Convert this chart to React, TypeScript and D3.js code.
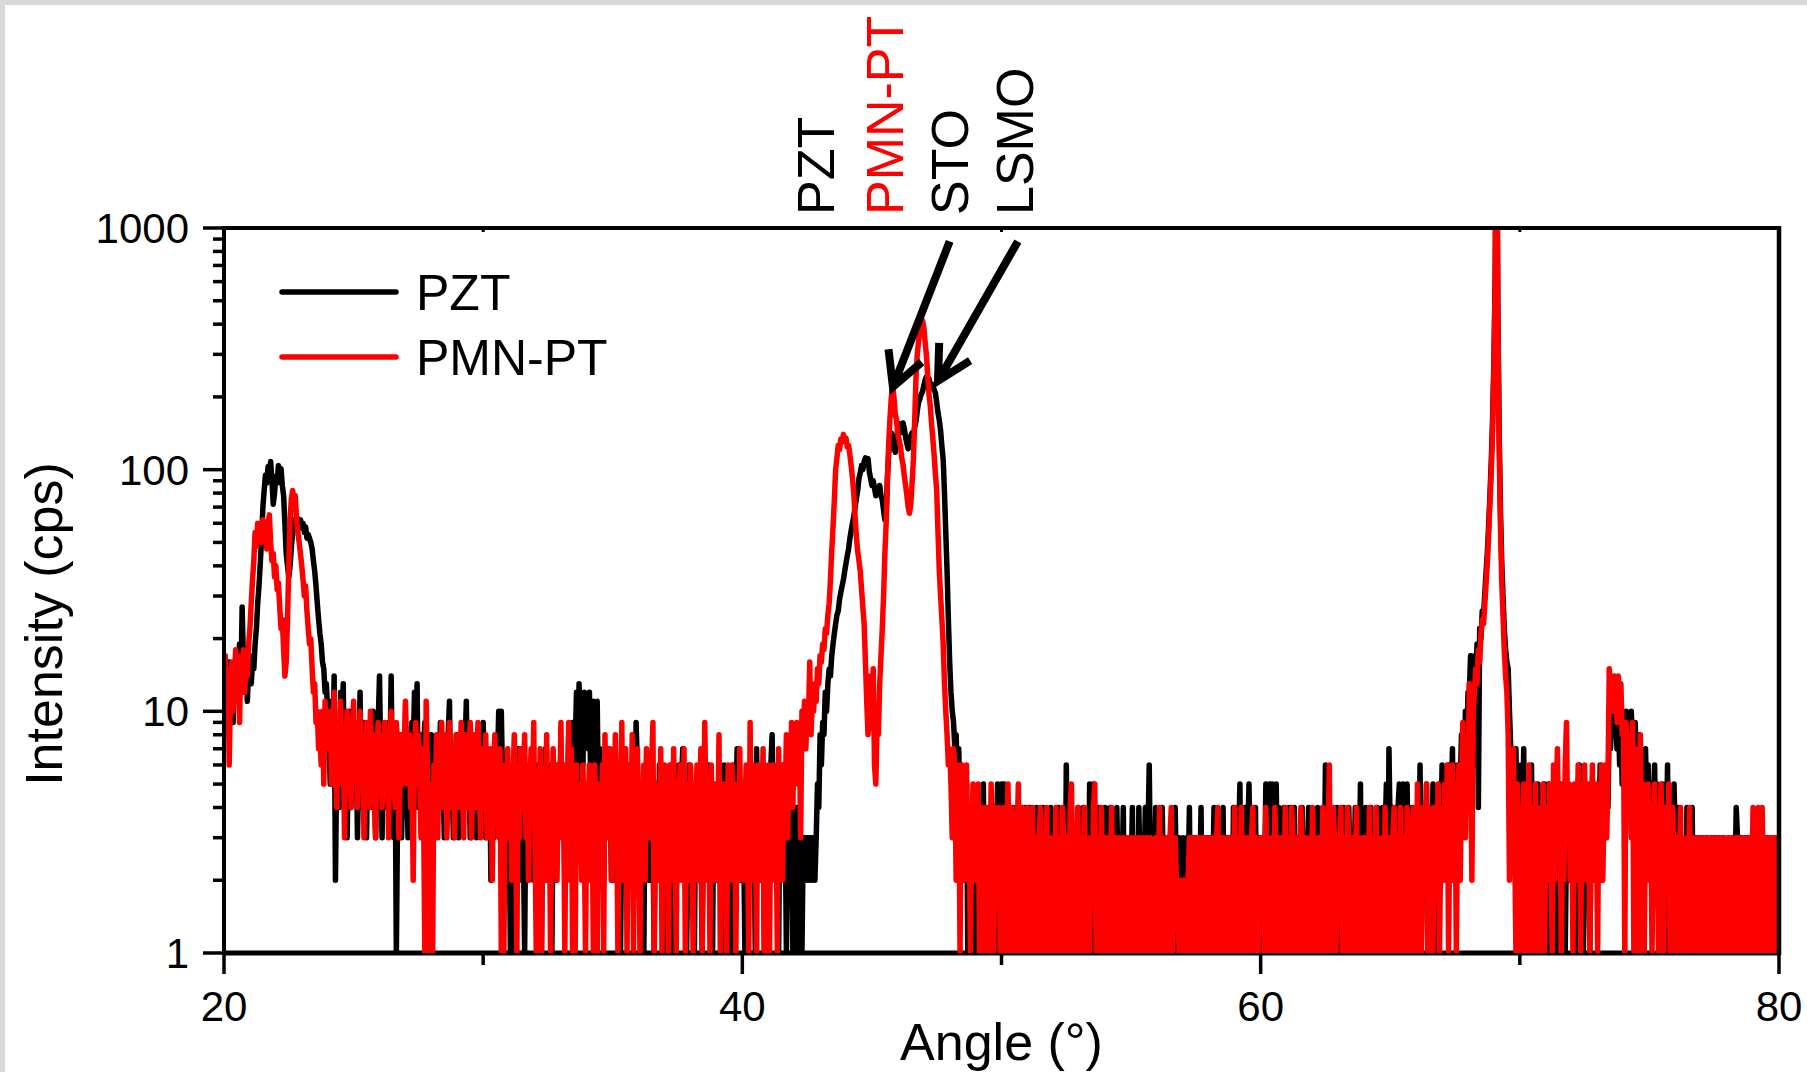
import React from "react";
import * as d3 from "d3";

// ---------- axis / sampling ----------
const ANGLE_START = 20;
const ANGLE_STEP = 0.05;
const X_DOMAIN = [20, 80];
const Y_DOMAIN = [1, 1000];
const X_TICKS = [20, 40, 60, 80];
const X_MINOR = [30, 50, 70];
const Y_TICKS = [1, 10, 100, 1000];
const SERIES_NAMES = ["PZT", "PMN-PT"];
const SERIES_COLORS = ["#000000", "#ff0000"];

// ---------- PZT (black) intensity, cps, 0.05 deg steps from 20.00 ----------
const pztFilm = [
  12, 9, 14, 11, 16, 10, 13, 9, 15, 12,
  17, 14, 19, 13, 27, 16, 12, 18, 11, 15,
  17, 13, 16, 15, 19, 22, 28, 33, 41, 52,
  70, 82, 95, 88, 103, 96, 108, 90, 72, 80,
  94, 88, 104, 97, 101, 86, 78, 60, 45, 40,
  36, 40, 48, 55, 62, 58, 64, 60, 57, 62,
  58, 60, 55, 58, 52, 54, 52, 50, 47, 42,
  38, 33, 28, 24, 21, 19, 16, 15, 12, 13,
  10,
];
const pztBackgroundLow = [
  8, 5, 11, 7, 14, 2, 6, 9, 4, 12, 7, 13, 5, 8, 3, 6, 10, 4, 7, 9,
  5, 8, 3, 6, 12, 4, 7, 9, 5, 3, 8, 6, 4, 7, 10, 5, 3, 6, 9, 14,
  6, 3, 8, 5, 7, 4, 9, 6, 14, 5, 3, 7, 1, 4, 6, 8, 3, 5, 7, 4,
  6, 3, 8, 5, 9, 7, 12, 6, 13, 4, 8, 5, 3, 7, 9, 4, 6, 3, 5, 8,
  4, 7, 3, 6, 8, 5, 9, 4, 6, 3, 7, 5, 8, 11, 4, 6, 3, 7, 5, 8,
  3, 6, 4, 8, 5, 7, 11, 4, 6, 3, 8, 5, 4, 7, 3, 6, 5, 8, 4, 9,
  5, 3, 7, 4, 6, 2, 5, 3, 7, 4, 6, 10, 3, 10, 5, 2, 4, 3, 6, 4,
  1, 4, 6, 1, 5, 3, 7, 2, 4, 6, 3, 1, 5, 4, 2, 6, 3, 5, 2, 4,
  3, 6, 2, 4, 1, 5, 3, 7, 2, 4, 6, 3, 1, 4, 5, 2, 6, 3, 4, 7,
  3, 5, 2, 6, 4, 8, 3, 5, 9, 4, 7, 12, 5, 13, 8, 11, 6, 12, 9, 11,
  7, 12, 5, 10, 11, 6, 9, 11, 4, 7, 3, 6, 2, 5, 4, 7, 3, 5, 2, 6,
  4, 2, 5, 3, 6, 1, 4, 7, 3, 5, 2, 6, 4, 3, 5, 4, 2, 9, 6, 3,
  5, 2, 4, 1, 6, 3, 5, 2, 4, 6, 3, 1, 5, 4, 2, 6, 3, 5, 1, 4,
  3, 5, 2, 4, 6, 1, 3, 5, 2, 4, 6, 3, 5, 7, 2, 4, 1, 3, 6, 2,
  4, 3, 1, 5, 2, 4, 6, 3, 1, 4, 2, 5, 3, 6, 2, 4, 1, 5, 3, 4,
  2, 5, 3, 1, 4, 6, 2, 4, 3, 5, 1, 3, 6, 2, 4, 7, 3, 5, 2, 4,
  3, 1, 5, 2, 4, 3, 6, 2, 4, 1, 7, 3, 5, 2, 4, 6, 1, 3, 5, 2,
  4, 6, 8, 3, 5, 2, 4, 1, 5, 3, 6, 2, 4, 1, 3, 5, 2, 4, 1, 3,
  2, 4, 1, 3, 2, 1, 3, 2, 3, 2,
];
const pztPeaks = [
  3, 2, 3, 2, 3, 2, 3, 5, 4,
  8, 6, 9, 8, 12, 10, 13, 15, 14, 17, 19, 21, 23, 25, 26, 29, 31, 33, 35, 38,
  41, 44, 47, 52, 56, 60, 64, 70, 76, 82, 92, 97, 104, 100, 108, 112, 106, 111, 98, 92,
  86, 90, 84, 78, 82, 80, 86, 78, 75, 68, 62, 66, 95, 118, 128, 142, 135, 125, 118, 130,
  150, 155, 142, 150, 156, 148, 136, 128, 122, 126, 138, 142, 136, 150, 158, 175, 190, 196, 205, 210,
  222, 235, 242, 228, 238, 226, 218, 225, 214, 208, 190, 172, 160, 145, 125, 110, 80, 55, 38, 24,
  16, 12, 10, 9, 7, 8, 5, 7, 4, 6, 3,
];
const pztBackgroundHigh = [
  4, 2, 5, 1, 3, 4, 2, 3, 1, 4,
  2, 3, 1, 4, 2, 5, 1, 3, 2, 4, 1, 3, 2, 4, 1, 3, 5, 2, 4, 5,
  3, 5, 1, 2, 4, 1, 3, 2, 4, 1, 3, 2, 1, 4, 2, 3, 1, 4, 2, 3,
  2, 4, 1, 3, 2, 1, 4, 2, 3, 1, 2, 4, 3, 1, 2, 3, 1, 4, 2, 3,
  1, 3, 2, 4, 1, 3, 2, 4, 1, 6, 2, 3, 1, 4, 2, 3, 1, 2, 4, 1,
  3, 2, 4, 1, 2, 3, 1, 5, 2, 4, 5, 1, 3, 2, 4, 1, 3, 2, 1, 4,
  2, 1, 3, 4, 1, 2, 3, 1, 4, 2, 1, 3, 2, 4, 1, 3, 2, 1, 3, 2,
  4, 1, 2, 3, 1, 4, 2, 3, 1, 2, 4, 1, 3, 6, 2, 1, 3, 2, 4, 1,
  3, 2, 1, 4, 2, 3, 1, 2, 3, 1, 2, 3, 1, 4, 2, 1, 3, 2, 1, 3,
  2, 1, 3, 2, 4, 1, 2, 3, 1, 2, 3, 1, 2, 4, 1, 3, 2, 1, 3, 2,
  3, 1, 2, 4, 1, 3, 2, 1, 3, 2, 4, 1, 2, 3, 1, 2, 3, 1, 4, 2,
  2, 4, 3, 5, 1, 3, 2, 4, 1, 3, 5, 2, 1, 3, 2, 4, 1, 3, 2, 3,
  1, 3, 2, 5, 4, 1, 5, 2, 5, 3, 1, 5, 2, 4, 1, 3, 2, 4, 1, 3,
  2, 4, 1, 3, 2, 4, 1, 3, 2, 1, 3, 4, 2, 1, 3, 2, 4, 1, 3, 2,
  1, 3, 2, 4, 1, 3, 2, 4, 2, 6, 1, 3, 2, 4, 1, 3, 2, 1, 4, 2,
  3, 1, 2, 4, 2, 3, 1, 4, 2, 3, 1, 2, 4, 1, 3, 2, 5, 1, 3, 2,
  4, 1, 3, 2, 4, 1, 3, 2, 1, 4, 2, 3, 1, 4, 2, 3, 5, 1, 7, 3,
  2, 4, 1, 3, 2, 4, 5, 2, 3, 5, 1, 4, 5, 2, 3, 1, 4, 2, 3, 4,
  3, 2, 6, 1, 4, 3, 2, 5, 1, 3, 4, 2, 5, 1, 3, 4, 2, 5, 3, 6,
  4, 3, 5, 2, 6, 3, 4, 7, 2, 5, 3, 6, 4, 5, 8, 6, 4, 10, 7, 12,
];
const pztSubstrate = [
  12, 17, 9, 6, 17, 14, 19, 4, 22, 20, 26, 25, 31, 38, 46, 60, 80, 110, 165, 280,
  650, 5000, 500, 150, 70, 42, 30, 22, 18, 16, 15, 10, 7, 5, 6, 4, 7, 3, 5, 4,
];
const pztTail = [
  6, 3, 7, 2, 4, 5, 1, 3, 6, 2, 4, 1, 3, 5, 2, 4, 1, 3, 5, 2,
  3, 5, 1, 4, 2, 3, 5, 1, 4, 2, 3, 5, 2, 4, 1, 3, 5, 2, 4, 3,
  2, 4, 1, 3, 5, 6, 2, 4, 1, 3, 5, 2, 4, 1, 3, 5, 2, 4, 3, 5,
  3, 6, 2, 4, 5, 3, 6, 4, 9, 7, 10, 8, 11, 9, 7, 10, 6, 9, 5, 9,
  7, 10, 6, 8, 5, 10, 7, 4, 9, 6, 5, 8, 4, 6, 3, 5, 7, 4, 6, 3,
  5, 2, 4, 6, 3, 5, 2, 4, 3, 5, 2, 4, 3, 6, 1, 3, 4, 2, 5, 3,
  2, 4, 1, 3, 2, 1, 3, 2, 4, 1, 3, 2, 4, 1, 2, 3, 1, 2, 3, 1,
  3, 2, 1, 3, 2, 1, 2, 3, 1, 2, 3, 1, 2, 3, 2, 1, 3, 2, 1, 2,
  3, 1, 2, 3, 1, 2, 4, 3, 1, 2, 3, 1, 2, 3, 1, 2, 3, 2, 1, 3,
  2, 3, 1, 2, 3, 2, 1, 3, 2, 1, 3, 2, 1, 3, 2, 3, 1, 2, 3, 2,
];

// ---------- PMN-PT (red) intensity, cps, 0.05 deg steps from 20.00 ----------
const pmnFilm = [
  13, 17, 8, 15, 6, 12, 16, 10, 14, 18,
  11, 15, 9, 17, 13, 18, 12, 16, 14, 19,
  22, 28, 35, 42, 55, 48, 60, 52, 57, 50,
  62, 54, 58, 47, 60, 65, 50, 42, 45, 36,
  40, 32, 34, 27, 22, 24, 18, 14, 16, 24,
  40, 62, 76, 82, 74, 78, 62, 55, 50, 45,
  40, 35, 30, 33, 26, 22, 19, 20, 15, 12,
  13, 9, 10, 7, 8, 6, 10, 5, 11, 7,
  9,
];
const pmnBackgroundLow = [
  7, 10, 5, 8, 12, 6, 4, 9, 7, 11, 5, 8, 3, 7, 10, 6, 9, 4, 8, 11,
  6, 9, 4, 7, 10, 5, 8, 3, 6, 9, 7, 4, 10, 6, 8, 5, 3, 7, 9, 6,
  8, 4, 6, 9, 5, 7, 3, 8, 10, 5, 6, 4, 9, 7, 3, 6, 8, 5, 7, 11,
  7, 5, 8, 4, 6, 2, 7, 9, 5, 8, 6, 3, 7, 4, 1, 11, 6, 1, 5, 1,
  1, 6, 4, 8, 3, 7, 5, 9, 4, 6, 8, 3, 5, 9, 4, 7, 6, 3, 8, 5,
  7, 4, 9, 5, 3, 8, 6, 4, 7, 9, 3, 5, 8, 4, 6, 9, 5, 3, 7, 6,
  4, 8, 3, 6, 5, 7, 2, 5, 8, 4, 6, 3, 7, 1, 5, 1, 6, 4, 7, 3,
  6, 2, 5, 8, 4, 1, 6, 3, 7, 4, 5, 8, 3, 6, 2, 5, 7, 4, 9, 3,
  1, 5, 3, 7, 1, 4, 6, 2, 8, 3, 5, 1, 4, 7, 3, 6, 2, 5, 4, 9,
  3, 6, 1, 5, 4, 9, 2, 7, 1, 4, 1, 6, 3, 5, 4, 2, 6, 3, 1, 5,
  4, 6, 2, 5, 1, 6, 3, 1, 5, 4, 2, 6, 1, 8, 3, 5, 4, 7, 2, 6,
  3, 8, 4, 1, 6, 3, 9, 2, 5, 7, 1, 4, 6, 3, 8, 1, 5, 3, 7, 4,
  1, 5, 3, 6, 2, 7, 4, 5, 3, 6, 9, 1, 4, 2, 5, 3, 7, 1, 4, 6,
  3, 5, 1, 6, 4, 2, 7, 3, 1, 5, 4, 6, 2, 3, 7, 1, 5, 4, 2, 6,
  4, 1, 5, 3, 6, 2, 4, 7, 1, 3, 9, 4, 2, 5, 1, 6, 3, 4, 2, 5,
  3, 8, 1, 4, 2, 5, 3, 1, 6, 4, 2, 6, 3, 5, 1, 4, 2, 7, 3, 5,
  2, 4, 6, 3, 1, 9, 2, 6, 3, 4, 1, 6, 2, 5, 3, 7, 1, 4, 3, 6,
  1, 5, 3, 6, 2, 4, 1, 7, 3, 5, 2, 6, 4, 8, 3, 7, 5, 9, 4, 8,
  6, 9, 5, 8, 3, 10, 8, 11, 7, 10,
];
const pmnPeaks = [
  9, 16, 8, 11, 10, 13, 11, 15, 13,
  17, 16, 19, 18, 22, 21, 25, 28, 35, 46, 58, 75, 100, 112, 126, 121, 134, 130, 140, 132,
  135, 124, 126, 115, 104, 92, 80, 64, 53, 46, 42, 38, 32, 27, 23, 16, 11, 8, 9, 14,
  9, 15, 6, 5, 9, 8, 13, 17, 22, 30, 45, 60, 90, 130, 165, 200, 222, 200, 170, 160,
  140, 133, 125, 112, 105, 94, 86, 78, 70, 66, 72, 88, 110, 160, 240, 300, 340, 370, 395, 415,
  390, 340, 300, 250, 205, 185, 155, 135, 115, 96, 82, 55, 38, 30, 24, 19, 13, 10, 8, 6,
  7, 5, 3, 7, 6, 2, 5, 6, 1, 6, 2,
];
const pmnBackgroundHigh = [
  5, 3, 6, 2, 4, 1, 3, 5, 2, 4,
  2, 5, 1, 3, 4, 1, 2, 4, 3, 1, 2, 5, 3, 1, 4, 2, 3, 4, 1, 3,
  2, 4, 1, 3, 5, 2, 1, 4, 3, 2, 1, 3, 5, 1, 2, 4, 1, 3, 2, 4,
  1, 3, 2, 4, 1, 3, 2, 1, 3, 4, 2, 1, 3, 2, 4, 1, 3, 2, 1, 3,
  2, 4, 1, 3, 2, 1, 4, 3, 1, 2, 3, 1, 4, 5, 2, 1, 3, 2, 4, 1,
  3, 1, 2, 4, 1, 3, 2, 1, 3, 2, 4, 5, 1, 2, 3, 1, 4, 2, 1, 3,
  2, 1, 3, 2, 4, 1, 2, 3, 1, 2, 3, 1, 2, 3, 2, 1, 3, 1, 2, 3,
  1, 2, 3, 1, 2, 3, 2, 1, 3, 2, 1, 3, 2, 1, 3, 1, 2, 2, 3, 1,
  2, 4, 1, 3, 2, 1, 3, 2, 1, 3, 4, 1, 2, 3, 2, 2, 1, 2, 2, 1,
  2, 2, 1, 2, 3, 1, 3, 2, 1, 3, 2, 3, 1, 2, 3, 1, 3, 2, 1, 3,
  2, 1, 3, 2, 1, 3, 4, 1, 2, 3, 1, 3, 2, 1, 3, 2, 1, 3, 2, 4,
  1, 3, 2, 1, 4, 2, 3, 1, 2, 3, 1, 2, 3, 4, 1, 2, 3, 1, 2, 3,
  2, 3, 1, 4, 2, 3, 1, 2, 3, 1, 4, 2, 1, 3, 2, 3, 1, 2, 4, 1,
  3, 2, 1, 4, 3, 1, 2, 3, 1, 2, 4, 3, 1, 2, 3, 1, 2, 3, 1, 4,
  2, 3, 1, 2, 3, 1, 2, 4, 3, 1, 2, 3, 6, 1, 2, 4, 3, 1, 2, 3,
  2, 4, 1, 3, 2, 1, 4, 3, 1, 2, 3, 1, 2, 4, 1, 3, 2, 1, 3, 2,
  3, 1, 2, 4, 1, 3, 2, 1, 4, 2, 3, 1, 2, 3, 1, 4, 2, 1, 3, 2,
  1, 3, 4, 2, 1, 3, 2, 4, 1, 3, 2, 1, 4, 3, 2, 1, 3, 4, 2, 1,
  5, 2, 3, 1, 4, 2, 3, 5, 1, 4, 2, 3, 1, 4, 3, 2, 5, 1, 3, 4,
  2, 5, 3, 6, 1, 4, 2, 6, 3, 5, 1, 4, 6, 2, 5, 9, 4, 3, 7, 5,
];
const pmnSubstrate = [
  13, 8, 2, 10, 12, 15, 13, 18, 16, 21, 24, 23, 28, 34, 42, 55, 75, 100, 150, 260,
  600, 5000, 450, 130, 60, 35, 25, 18, 14, 12, 8, 2, 6, 4, 7, 3, 1, 5, 2, 4,
];
const pmnTail = [
  1, 3, 5, 1, 4, 2, 6, 1, 3, 4, 1, 5, 2, 3, 1, 4, 2, 5, 1, 3,
  4, 2, 5, 3, 1, 6, 2, 4, 7, 3, 5, 1, 4, 2, 6, 9, 3, 5, 2, 4,
  1, 5, 3, 2, 6, 4, 1, 5, 3, 6, 2, 4, 5, 1, 3, 6, 2, 5, 4, 1,
  5, 3, 6, 2, 4, 6, 3, 5, 15, 12, 14, 10, 14, 13, 9, 14, 11, 13, 8, 9,
  1, 9, 7, 5, 8, 3, 9, 1, 7, 4, 6, 1, 8, 3, 5, 1, 4, 2, 5, 3,
  4, 1, 3, 5, 2, 4, 1, 3, 5, 2, 1, 4, 3, 2, 5, 1, 3, 4, 2, 1,
  3, 1, 2, 4, 1, 3, 2, 1, 3, 2, 4, 1, 2, 3, 1, 2, 3, 1, 2, 3,
  2, 1, 3, 2, 1, 3, 1, 2, 3, 1, 2, 3, 2, 1, 3, 2, 1, 3, 2, 1,
  3, 2, 1, 3, 2, 1, 3, 2, 3, 1, 2, 3, 1, 2, 3, 2, 1, 3, 2, 4,
  1, 3, 2, 4, 1, 3, 4, 2, 1, 3, 2, 1, 3, 2, 3, 1, 2, 3, 1, 3,
];

// ---------- annotations (data coordinates) ----------
const PEAK_LABELS = [
  { text: "PZT", angle: 43.53, color: "#000000" },
  { text: "PMN-PT", angle: 46.2, color: "#ff0000" },
  { text: "STO", angle: 48.7, color: "#000000" },
  { text: "LSMO", angle: 51.21, color: "#000000" },
];
const ARROWS = [
  { fromAngle: 48.0, fromI: 880, toAngle: 45.81, toI: 220 },
  { fromAngle: 50.63, fromI: 880, toAngle: 47.55, toI: 233 },
];

const FONT = "'Liberation Sans', Arial, Helvetica, sans-serif";

export default function App() {
  const W = 1807;
  const H = 1072;
  const L = 224, R = 1779, T = 228, B = 953;

  const x = d3.scaleLinear().domain(X_DOMAIN).range([L, R]);
  const y = d3.scaleLog().domain(Y_DOMAIN).range([B, T]);

  const pzt = [...pztFilm, ...pztBackgroundLow, ...pztPeaks, ...pztBackgroundHigh, ...pztSubstrate, ...pztTail];
  const pmn = [...pmnFilm, ...pmnBackgroundLow, ...pmnPeaks, ...pmnBackgroundHigh, ...pmnSubstrate, ...pmnTail];
  const series = [pzt, pmn];

  const line = d3
    .line<number>()
    .x((_, i) => x(ANGLE_START + i * ANGLE_STEP))
    .y((v) => y(Math.max(v, 1)));

  const yMinor: number[] = [];
  [1, 10, 100].forEach((d) => {
    for (let k = 2; k <= 9; k++) yMinor.push(d * k);
  });

  const arrowPaths = ARROWS.map((a) => {
    const x0 = x(a.fromAngle), y0 = y(a.fromI);
    const x1 = x(a.toAngle), y1 = y(a.toI);
    const ang = Math.atan2(y0 - y1, x0 - x1);
    const wing = 38;
    const spread = (28 * Math.PI) / 180;
    const w1 = [x1 + wing * Math.cos(ang - spread), y1 + wing * Math.sin(ang - spread)];
    const w2 = [x1 + wing * Math.cos(ang + spread), y1 + wing * Math.sin(ang + spread)];
    return `M${x0},${y0}L${x1},${y1}M${w1[0]},${w1[1]}L${x1},${y1}L${w2[0]},${w2[1]}`;
  });

  return (
    <div style={{ position: "absolute", left: 0, top: 0, width: W, height: H, overflow: "hidden" }}>
      <svg width={W} height={H} style={{ display: "block" }} fontFamily={FONT}>
        <defs>
          <clipPath id="plotClip">
            <rect x={L} y={T} width={R - L} height={B - T} />
          </clipPath>
        </defs>
        <rect x={0} y={0} width={W} height={H} fill="#d9d9d9" />
        <rect x={5} y={5} width={W - 5} height={H - 5} fill="#ffffff" />

        {/* bottom axis under the data */}
        <line x1={L} x2={R} y1={B} y2={B} stroke="#000" strokeWidth={5} />

        {/* data */}
        <g clipPath="url(#plotClip)">
          {series.map((s, k) => (
            <path
              key={k}
              d={line(s) || ""}
              fill="none"
              stroke={SERIES_COLORS[k]}
              strokeWidth={5.5}
              strokeLinejoin="round"
              strokeLinecap="round"
            />
          ))}
        </g>

        {/* frame */}
        <line x1={L} x2={R} y1={T} y2={T} stroke="#000" strokeWidth={4} />
        <line x1={L} x2={L} y1={T - 2} y2={B + 2} stroke="#000" strokeWidth={4} />
        <line x1={R} x2={R} y1={T - 2} y2={B + 2} stroke="#000" strokeWidth={4.5} />

        {/* y ticks */}
        {Y_TICKS.map((v) => (
          <g key={"yt" + v}>
            <line x1={L - 21} x2={L} y1={y(v)} y2={y(v)} stroke="#000" strokeWidth={3.5} />
            <text x={189} y={y(v) + 15} textAnchor="end" fontSize={42} fill="#000">
              {v}
            </text>
          </g>
        ))}
        {yMinor.map((v) => (
          <line key={"ym" + v} x1={L - 11} x2={L} y1={y(v)} y2={y(v)} stroke="#000" strokeWidth={3.5} />
        ))}

        {/* x ticks */}
        {X_TICKS.map((v) => (
          <g key={"xt" + v}>
            <line x1={x(v)} x2={x(v)} y1={B} y2={B + 21} stroke="#000" strokeWidth={3.5} />
            <text x={x(v)} y={1021} textAnchor="middle" fontSize={42} fill="#000">
              {v}
            </text>
          </g>
        ))}
        {X_MINOR.map((v) => (
          <g key={"xm" + v}>
            <line x1={x(v)} x2={x(v)} y1={B} y2={B + 12} stroke="#000" strokeWidth={3.5} />
            <line x1={x(v)} x2={x(v)} y1={T} y2={T + 4} stroke="#000" strokeWidth={3} />
          </g>
        ))}

        {/* axis titles */}
        <text x={x(50)} y={1060} textAnchor="middle" fontSize={52} fill="#000">
          Angle (°)
        </text>
        <text
          transform={`translate(62, ${624}) rotate(-90)`}
          textAnchor="middle"
          fontSize={52}
          fill="#000"
        >
          Intensity (cps)
        </text>

        {/* legend */}
        {SERIES_NAMES.map((name, k) => (
          <g key={name}>
            <line
              x1={282}
              x2={396}
              y1={292 + k * 65}
              y2={292 + k * 65}
              stroke={SERIES_COLORS[k]}
              strokeWidth={5.5}
              strokeLinecap="round"
            />
            <text x={416} y={310 + k * 65} fontSize={50} fill="#000">
              {name}
            </text>
          </g>
        ))}

        {/* peak labels */}
        {PEAK_LABELS.map((p) => (
          <text
            key={p.text}
            transform={`translate(${x(p.angle)}, ${T - 13}) rotate(-90)`}
            fontSize={52}
            fill={p.color}
          >
            {p.text}
          </text>
        ))}

        {/* arrows */}
        {arrowPaths.map((d, i) => (
          <path
            key={"ar" + i}
            d={d}
            fill="none"
            stroke="#000"
            strokeWidth={8}
            strokeLinejoin="miter"
            strokeLinecap="butt"
          />
        ))}
      </svg>
    </div>
  );
}
